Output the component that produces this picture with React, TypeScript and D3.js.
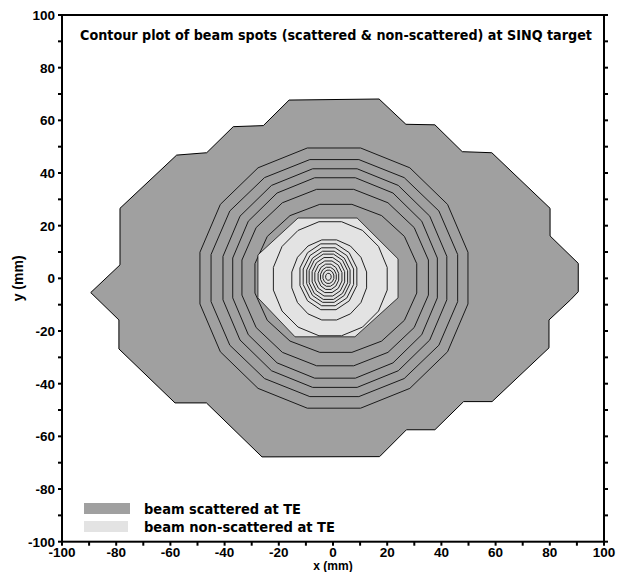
import React from 'react';
import * as d3 from 'd3';

// ==== data (mm)

// outline of the scattered beam spot
const scatteredX = [-16.2, 17.0, 26.9, 37.6, 47.7, 58.6, 80.1, 80.1, 90.5, 90.5, 87.7, 79.7, 79.7, 58.7, 48.2, 37.6, 27.1, 17.2, -26.2, -46.7, -58.3, -79.0, -79.0, -89.4, -78.6, -78.6, -57.7, -46.6, -36.8, -25.7];
const scatteredY = [67.7, 68.1, 58.5, 58.3, 48.1, 47.7, 26.6, 16.1, 5.7, -5.1, -8.1, -15.8, -26.4, -46.8, -46.8, -57.5, -57.5, -67.7, -67.8, -47.3, -47.3, -26.8, -15.8, -5.4, 5.1, 26.6, 46.8, 47.7, 57.6, 58.0];

// outline of the non-scattered beam spot
const directX = [-12.9, 8.9, 24.0, 24.0, 8.1, -14.0, -27.7, -27.7];
const directY = [22.9, 22.9, 7.4, -7.4, -22.2, -22.2, -7.4, 8.9];

// contour rings, extents (top, bottom, left, right)
const outerTop = [49.5, 45.1, 41.6, 38.2, 33.8, 28.1];
const outerBottom = [-49.3, -44.9, -41.4, -37.9, -33.2, -28.1];
const outerLeft = [-49.1, -45.0, -40.6, -37.0, -33.6, -28.8];
const outerRight = [49.8, 46.0, 42.0, 38.5, 35.2, 30.9];

const innerTop = [21.5, 14.6, 13.1, 11.6, 10.3, 9.2, 7.9, 6.6, 5.4, 4.2, 3.1, 1.9];
const innerBottom = [-21.8, -15.8, -11.9, -10.4, -9.1, -8.0, -6.7, -5.4, -4.2, -3.0, -1.9, -0.7];
const innerLeft = [-22.0, -15.2, -12.2, -11.0, -9.7, -8.8, -7.7, -6.7, -5.5, -4.6, -3.7, -2.7];
const innerRight = [20.0, 12.4, 8.8, 7.6, 6.3, 5.4, 4.3, 3.3, 2.1, 1.2, 0.3, -0.7];

const ticksMajor = [-100, -80, -60, -40, -20, 0, 20, 40, 60, 80, 100];
const ticksMinor = d3.range(-100, 101, 10);

const legendLabels = ['beam scattered at TE', 'beam non-scattered at TE'];
const legendColors = ['#a0a0a0', '#e3e3e3'];
const title = 'Contour plot of beam spots (scattered & non-scattered) at SINQ target';

// ====

const W = 627;
const H = 572;
const left = 62;
const right = 604;
const top = 15;
const bottom = 541.7;

const font = '"Liberation Sans Narrow", "DejaVu Sans Condensed", "Liberation Sans", sans-serif';
const numFont = '"Liberation Sans", "DejaVu Sans", sans-serif';

const x = d3.scaleLinear().domain([-100, 100]).range([left, right]);
const y = d3.scaleLinear().domain([-100, 100]).range([bottom, top]);

const line = d3.line<[number, number]>()
    .x((d) => x(d[0]))
    .y((d) => y(d[1]))
    .curve(d3.curveLinearClosed);

// polygon with flats at the four read extents
function ring(t: number, b: number, l: number, r: number, n: number): [number, number][] {
    const step = 360 / n;
    const c0 = Math.cos((step / 2) * Math.PI / 180);
    const cx = (l + r) / 2;
    const cy = (t + b) / 2;
    const rx = (r - l) / 2;
    const ry = (t - b) / 2;
    return d3.range(n).map((k) => {
        const a = (step / 2 + step * k) * Math.PI / 180;
        return [cx + rx * Math.cos(a) / c0, cy + ry * Math.sin(a) / c0] as [number, number];
    });
}

function zipPts(xs: number[], ys: number[]): [number, number][] {
    return xs.map((v, i) => [v, ys[i]] as [number, number]);
}

export default function App() {
    const outerRings = outerTop.map((t, i) => ring(t, outerBottom[i], outerLeft[i], outerRight[i], 16));
    const innerRings = innerTop.map((t, i) => ring(t, innerBottom[i], innerLeft[i], innerRight[i], i < 2 ? 16 : 12));

    return (
        <svg width={W} height={H} style={{ position: 'absolute', left: 0, top: 0, background: '#fff' }}>
            <path d={line(zipPts(scatteredX, scatteredY)) || ''} fill="#a0a0a0" stroke="#000" strokeWidth={1} />
            {outerRings.map((pts, i) => (
                <path key={'o' + i} d={line(pts) || ''} fill="none" stroke="#1a1a1a" strokeWidth={1} />
            ))}
            <path d={line(zipPts(directX, directY)) || ''} fill="#e3e3e3" stroke="#111" strokeWidth={0.8} />
            {innerRings.map((pts, i) => (
                <path key={'i' + i} d={line(pts) || ''} fill="none" stroke="#222" strokeWidth={1} />
            ))}

            {/* frame */}
            <rect x={left} y={top} width={right - left} height={bottom - top} fill="none" stroke="#000" strokeWidth={2} />

            {ticksMinor.map((t) => (
                <g key={'t' + t}>
                    <line x1={left - 4} x2={left} y1={y(t)} y2={y(t)} stroke="#000" strokeWidth={2} />
                    <line x1={right} x2={right + 4} y1={y(t)} y2={y(t)} stroke="#000" strokeWidth={2} />
                    <line x1={x(t)} x2={x(t)} y1={bottom} y2={bottom + 4} stroke="#000" strokeWidth={2} />
                </g>
            ))}
            {ticksMajor.map((t) => (
                <g key={'l' + t} fontFamily={numFont} fontWeight="bold" fontSize={13.5} fill="#000">
                    <text x={left - 7} y={y(t) + 5} textAnchor="end">{t}</text>
                    <text x={x(t)} y={556.5} textAnchor="middle">{t}</text>
                </g>
            ))}

            <text x={(left + right) / 2} y={569.5} textAnchor="middle" fontFamily={numFont} fontWeight="bold" fontSize={12}>x (mm)</text>
            <text transform={`translate(23, ${y(0)}) rotate(-90)`} textAnchor="middle" fontFamily={numFont} fontWeight="bold" fontSize={14}>y (mm)</text>

            <text x={80} y={40} textLength={512} lengthAdjust="spacingAndGlyphs" fontFamily={font} fontWeight="bold" fontSize={14}>{title}</text>

            {legendLabels.map((lab, i) => (
                <g key={lab}>
                    <rect x={84} y={503 + i * 18} width={46 - i * 2} height={11} fill={legendColors[i]} />
                    <text x={144} y={513.5 + i * 18} textLength={i === 0 ? 157 : 191} lengthAdjust="spacingAndGlyphs"
                        fontFamily={font} fontWeight="bold" fontSize={14}>{lab}</text>
                </g>
            ))}
        </svg>
    );
}
